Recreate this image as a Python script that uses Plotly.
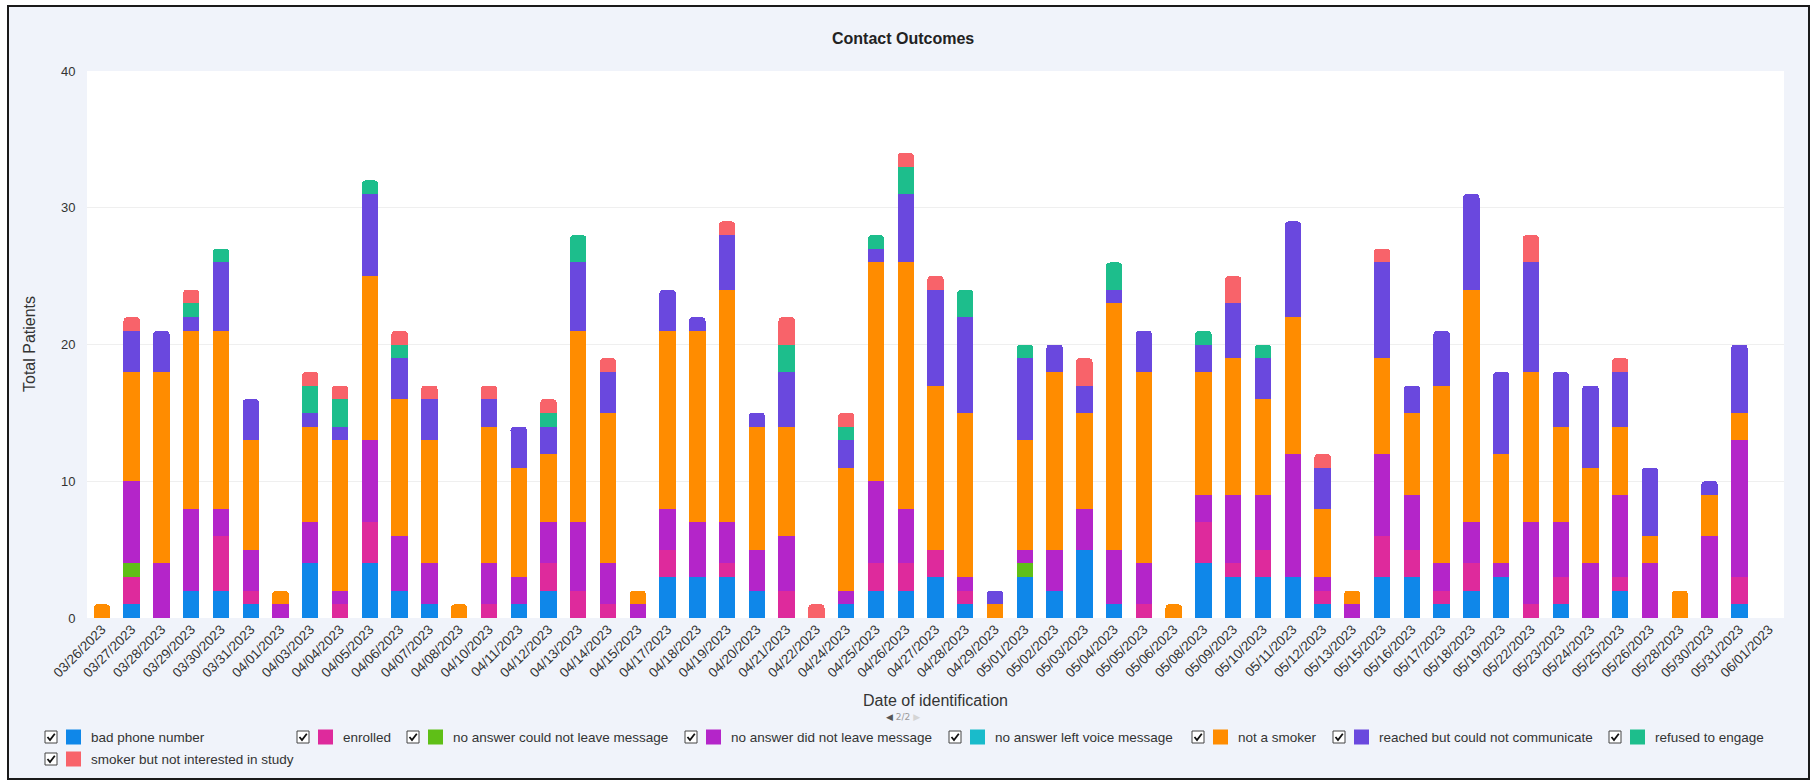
import plotly.graph_objects as go

# ---- data -------------------------------------------------------------
dates = [
    "03/26/2023", "03/27/2023", "03/28/2023", "03/29/2023", "03/30/2023", "03/31/2023",
    "04/01/2023", "04/03/2023", "04/04/2023", "04/05/2023", "04/06/2023", "04/07/2023",
    "04/08/2023", "04/10/2023", "04/11/2023", "04/12/2023", "04/13/2023", "04/14/2023",
    "04/15/2023", "04/17/2023", "04/18/2023", "04/19/2023", "04/20/2023", "04/21/2023",
    "04/22/2023", "04/24/2023", "04/25/2023", "04/26/2023", "04/27/2023", "04/28/2023",
    "04/29/2023", "05/01/2023", "05/02/2023", "05/03/2023", "05/04/2023", "05/05/2023",
    "05/06/2023", "05/08/2023", "05/09/2023", "05/10/2023", "05/11/2023", "05/12/2023",
    "05/13/2023", "05/15/2023", "05/16/2023", "05/17/2023", "05/18/2023", "05/19/2023",
    "05/22/2023", "05/23/2023", "05/24/2023", "05/25/2023", "05/26/2023", "05/28/2023",
    "05/30/2023", "05/31/2023", "06/01/2023",
]

bad_phone_number = [0, 1, 0, 2, 2, 1, 0, 4, 0, 4, 2, 1, 0, 0, 1, 2, 0, 0, 0, 3, 3, 3, 2, 0, 0, 1, 2, 2, 3,
                    1, 0, 3, 2, 5, 1, 0, 0, 4, 3, 3, 3, 1, 0, 3, 3, 1, 2, 3, 0, 1, 0, 2, 0, 0, 0, 1, 0]
enrolled = [0, 2, 0, 0, 4, 1, 0, 0, 1, 3, 0, 0, 0, 1, 0, 2, 2, 1, 0, 2, 0, 1, 0, 2, 0, 0, 2, 2, 2,
            1, 0, 0, 0, 0, 0, 1, 0, 3, 1, 2, 0, 1, 0, 3, 2, 1, 2, 0, 1, 2, 0, 1, 0, 0, 0, 2, 0]
no_answer_could_not_leave = [0, 1, 0, 0, 0, 0, 0, 0, 0, 0, 0, 0, 0, 0, 0, 0, 0, 0, 0, 0, 0, 0, 0, 0, 0, 0, 0, 0, 0,
                             0, 0, 1, 0, 0, 0, 0, 0, 0, 0, 0, 0, 0, 0, 0, 0, 0, 0, 0, 0, 0, 0, 0, 0, 0, 0, 0, 0]
no_answer_did_not_leave = [0, 6, 4, 6, 2, 3, 1, 3, 1, 6, 4, 3, 0, 3, 2, 3, 5, 3, 1, 3, 4, 3, 3, 4, 0, 1, 6, 4, 0,
                           1, 0, 1, 3, 3, 4, 3, 0, 2, 5, 4, 9, 1, 1, 6, 4, 2, 3, 1, 6, 4, 4, 6, 4, 0, 6, 10, 0]
no_answer_left_voice = [0] * 57
not_a_smoker = [1, 8, 14, 13, 13, 8, 1, 7, 11, 12, 10, 9, 1, 10, 8, 5, 14, 11, 1, 13, 14, 17, 9, 8, 0, 9, 16, 18, 12,
                12, 1, 8, 13, 7, 18, 14, 1, 9, 10, 7, 10, 5, 1, 7, 6, 13, 17, 8, 11, 7, 7, 5, 2, 2, 3, 2, 0]
reached_no_communicate = [0, 3, 3, 1, 5, 3, 0, 1, 1, 6, 3, 3, 0, 2, 3, 2, 5, 3, 0, 3, 1, 4, 1, 4, 0, 2, 1, 5, 7,
                          7, 1, 6, 2, 2, 1, 3, 0, 2, 4, 3, 7, 3, 0, 7, 2, 4, 7, 6, 8, 4, 6, 4, 5, 0, 1, 5, 0]
refused_to_engage = [0, 0, 0, 1, 1, 0, 0, 2, 2, 1, 1, 0, 0, 0, 0, 1, 2, 0, 0, 0, 0, 0, 0, 2, 0, 1, 1, 2, 0,
                     2, 0, 1, 0, 0, 2, 0, 0, 1, 0, 1, 0, 0, 0, 0, 0, 0, 0, 0, 0, 0, 0, 0, 0, 0, 0, 0, 0]
smoker_not_interested = [0, 1, 0, 1, 0, 0, 0, 1, 1, 0, 1, 1, 0, 1, 0, 1, 0, 1, 0, 0, 0, 1, 0, 2, 1, 1, 0, 1, 1,
                         0, 0, 0, 0, 2, 0, 0, 0, 0, 2, 0, 0, 1, 0, 1, 0, 0, 0, 0, 2, 0, 0, 1, 0, 0, 0, 0, 0]

outcome_names = [
    "bad phone number",
    "enrolled",
    "no answer could not leave message",
    "no answer did not leave message",
    "no answer left voice message",
    "not a smoker",
    "reached but could not communicate",
    "refused to engage",
    "smoker but not interested in study",
]
outcome_values = [
    bad_phone_number, enrolled, no_answer_could_not_leave, no_answer_did_not_leave,
    no_answer_left_voice, not_a_smoker, reached_no_communicate, refused_to_engage,
    smoker_not_interested,
]
outcome_colors = [
    "#0F87E9", "#DE2A9C", "#5FBF17", "#B425C9", "#19BBCB",
    "#FF8C00", "#6A48DE", "#1DBE8C", "#F8636A",
]

# ---- page geometry (pixels) ------------------------------------------
W, H = 1815, 781
L, R, T, B = 87, 1784, 71, 618


def fx(px):
    return (px - L) / (R - L)


def fy(py):
    return (B - py) / (B - T)


FONT = "Liberation Sans, Arial, sans-serif"
TEXT = "#333333"

fig = go.Figure()
for name, vals, col in zip(outcome_names, outcome_values, outcome_colors):
    fig.add_trace(go.Bar(x=dates, y=vals, name=name, marker=dict(color=col, line=dict(width=0)),
                         showlegend=False))

shapes = [
    # framed panel
    dict(type="rect", xref="paper", yref="paper", x0=fx(8), x1=fx(1809), y0=fy(779), y1=fy(6),
         fillcolor="#F0F3FA", line=dict(color="#1A1A1A", width=2), layer="below"),
    # white plotting area
    dict(type="rect", xref="x domain", yref="y domain", x0=0, x1=1, y0=0, y1=1,
         fillcolor="#FFFFFF", line=dict(width=0), layer="below"),
]
annotations = []

# custom legend: checkbox, swatch, label
legend_x = [45, 297, 407, 685, 949, 1192, 1333, 1609, 45]
legend_row = [737, 737, 737, 737, 737, 737, 737, 737, 759]
for name, col, x0, yc in zip(outcome_names, outcome_colors, legend_x, legend_row):
    cb = 12
    top = yc - cb / 2
    shapes.append(dict(type="rect", xref="paper", yref="paper",
                       x0=fx(x0), x1=fx(x0 + cb), y0=fy(top + cb), y1=fy(top),
                       fillcolor="#FFFFFF", line=dict(color="#444444", width=1)))
    path = "M {:.5f},{:.5f} L {:.5f},{:.5f} L {:.5f},{:.5f}".format(
        fx(x0 + 2.5), fy(top + 6), fx(x0 + 5), fy(top + 9), fx(x0 + 9.8), fy(top + 2.8))
    shapes.append(dict(type="path", xref="paper", yref="paper", path=path,
                       line=dict(color="#111111", width=1.8)))
    sx = x0 + 21
    shapes.append(dict(type="rect", xref="paper", yref="paper",
                       x0=fx(sx), x1=fx(sx + 15), y0=fy(yc + 7.5), y1=fy(yc - 7.5),
                       fillcolor=col, line=dict(width=0)))
    annotations.append(dict(xref="paper", yref="paper", x=fx(sx + 23), y=fy(yc),
                            xanchor="left", yanchor="middle", showarrow=False, text=name,
                            font=dict(family=FONT, size=13.5, color=TEXT)))

annotations += [
    dict(xref="paper", yref="paper", x=fx(903), y=fy(39), showarrow=False,
         text="<b>Contact Outcomes</b>", font=dict(family=FONT, size=16, color="#222222"),
         xanchor="center", yanchor="middle"),
    dict(xref="paper", yref="paper", x=fx(29), y=fy(344), showarrow=False, textangle=-90,
         text="Total Patients", font=dict(family=FONT, size=16, color=TEXT),
         xanchor="center", yanchor="middle"),
    dict(xref="paper", yref="paper", x=fx(935), y=fy(700), showarrow=False,
         text="Date of identification", font=dict(family=FONT, size=16, color=TEXT),
         xanchor="center", yanchor="middle"),
    dict(xref="paper", yref="paper", x=fx(903), y=fy(717), showarrow=False,
         text="<span style='color:#555555'>◀</span> 2/2 <span style='color:#D5D5D5'>▶</span>",
         font=dict(family="DejaVu Sans, sans-serif", size=9, color="#999999"),
         xanchor="center", yanchor="middle"),
]

fig.update_layout(
    width=W, height=H,
    margin=dict(l=L, r=W - R, t=T, b=H - B, pad=0),
    barmode="stack", bargap=0.45, barcornerradius=4,
    paper_bgcolor="#FFFFFF", plot_bgcolor="#FFFFFF",
    font=dict(family=FONT, size=13, color=TEXT),
    shapes=shapes, annotations=annotations,
    xaxis=dict(type="category", tickangle=-45, dtick=1, showgrid=False, zeroline=False,
               showline=False, ticks="", tickfont=dict(family=FONT, size=13.5, color=TEXT)),
    yaxis=dict(range=[0, 40], dtick=10, showgrid=True, gridcolor="#EFEFEF", gridwidth=1,
               zeroline=False, showline=False, ticks="outside", ticklen=8,
               tickcolor="rgba(0,0,0,0)", tickfont=dict(family=FONT, size=13, color=TEXT)),
    hovermode=False,
)

fig.write_html("out.html")
